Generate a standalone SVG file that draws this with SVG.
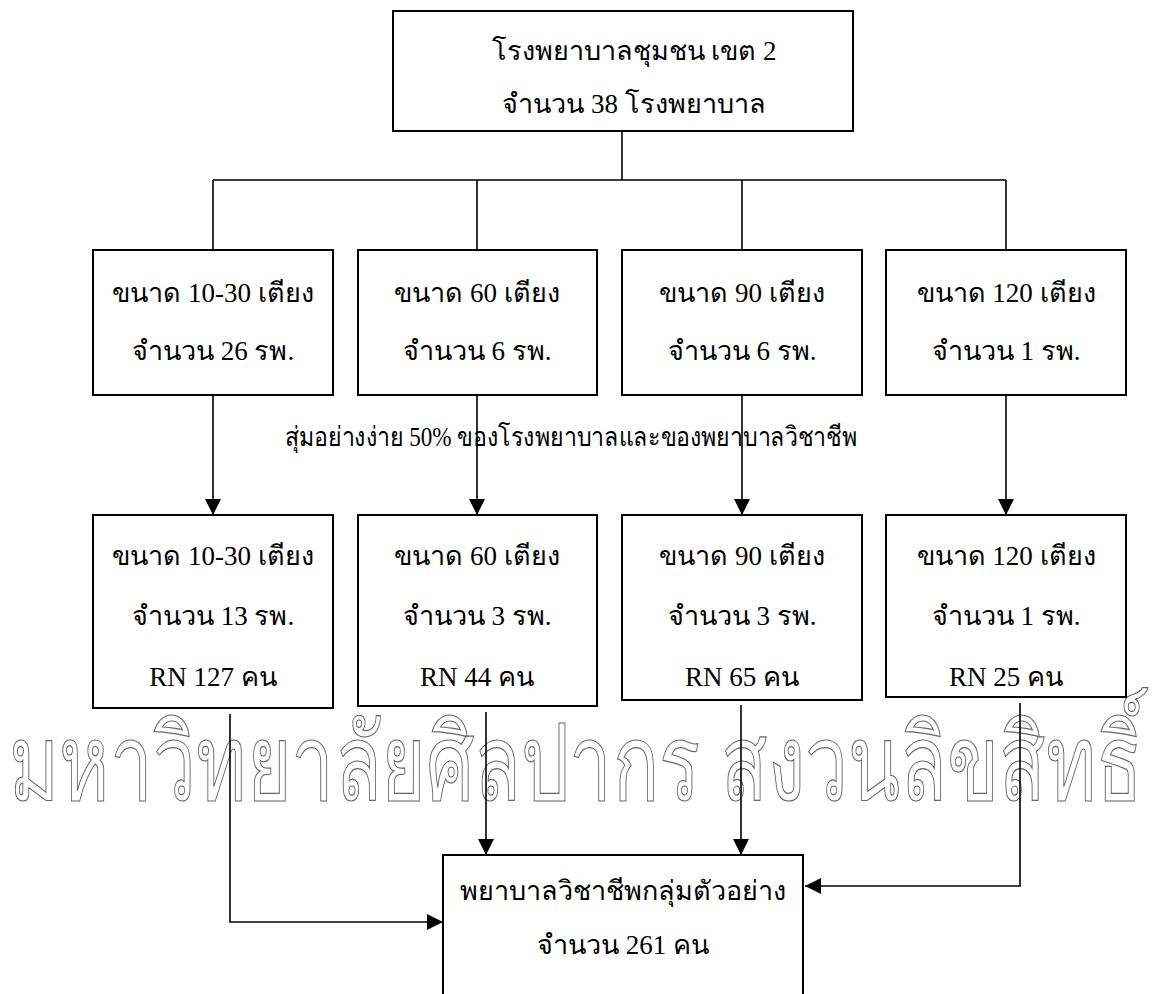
<svg xmlns="http://www.w3.org/2000/svg" width="1153" height="994" viewBox="0 0 1153 994">
<defs>
<style>
.box{fill:#fff;stroke:#000;stroke-width:2}
.t{font-family:"Liberation Serif","DejaVu Serif",serif;font-size:27px;fill:#000;text-anchor:middle}
.c{fill:none;stroke:#000;stroke-width:1.6}
.wm{font-family:"Liberation Sans","DejaVu Sans",sans-serif;font-size:106px;fill:none;stroke:#666;stroke-width:1.2}
</style>
<marker id="ah2" viewBox="0 0 10 10" refX="10" refY="5" markerWidth="16" markerHeight="16" markerUnits="userSpaceOnUse" orient="auto">
<path d="M0,0 L10,5 L0,10 z" fill="#000"/>
</marker>
</defs>
<rect width="1153" height="994" fill="#fff"/>

<text class="wm" x="576" y="800" text-anchor="middle" textLength="1134" lengthAdjust="spacingAndGlyphs">มหาวิทยาลัยศิลปากร สงวนลิขสิทธิ์</text>

<g id="connectors">
<path class="c" d="M622,131 V180 M213,180 H1006 M213,180 V250 M477,180 V250 M742,180 V250 M1006,180 V250"/>
<line class="c" x1="213" y1="395" x2="213" y2="515" marker-end="url(#ah2)"/>
<line class="c" x1="477" y1="395" x2="477" y2="515" marker-end="url(#ah2)"/>
<line class="c" x1="742" y1="395" x2="742" y2="515" marker-end="url(#ah2)"/>
<line class="c" x1="1006" y1="395" x2="1006" y2="515" marker-end="url(#ah2)"/>
<polyline class="c" points="230,714 230,922 443,922" marker-end="url(#ah2)"/>
<line class="c" x1="486" y1="712" x2="486" y2="855" marker-end="url(#ah2)"/>
<line class="c" x1="741" y1="705" x2="741" y2="855" marker-end="url(#ah2)"/>
<polyline class="c" points="1020,703 1020,886 805,886" marker-end="url(#ah2)"/>
</g>

<g id="top">
<rect class="box" x="393" y="11" width="460" height="120"/>
<text class="t" x="634" y="60">โรงพยาบาลชุมชน เขต 2</text>
<text class="t" x="634" y="113">จำนวน 38 โรงพยาบาล</text>
</g>

<g id="a1"><rect class="box" x="93" y="250" width="240" height="145"/>
<text class="t" x="213" y="302">ขนาด 10-30 เตียง</text><text class="t" x="213" y="360">จำนวน 26 รพ.</text></g>
<g id="a2"><rect class="box" x="358" y="250" width="239" height="145"/>
<text class="t" x="477" y="302">ขนาด 60 เตียง</text><text class="t" x="477" y="360">จำนวน 6 รพ.</text></g>
<g id="a3"><rect class="box" x="622" y="250" width="240" height="145"/>
<text class="t" x="742" y="302">ขนาด 90 เตียง</text><text class="t" x="742" y="360">จำนวน 6 รพ.</text></g>
<g id="a4"><rect class="box" x="886" y="250" width="240" height="145"/>
<text class="t" x="1006" y="302">ขนาด 120 เตียง</text><text class="t" x="1006" y="360">จำนวน 1 รพ.</text></g>

<g id="label"><text class="t" x="571" y="446" textLength="572" lengthAdjust="spacingAndGlyphs">สุ่มอย่างง่าย 50% ของโรงพยาบาลและของพยาบาลวิชาชีพ</text></g>

<g id="b1"><rect class="box" x="93" y="515" width="240" height="193"/>
<text class="t" x="213" y="565">ขนาด 10-30 เตียง</text><text class="t" x="213" y="625">จำนวน 13 รพ.</text><text class="t" x="213" y="686">RN 127 คน</text></g>
<g id="b2"><rect class="box" x="358" y="515" width="239" height="191"/>
<text class="t" x="477" y="565">ขนาด 60 เตียง</text><text class="t" x="477" y="625">จำนวน 3 รพ.</text><text class="t" x="477" y="686">RN 44 คน</text></g>
<g id="b3"><rect class="box" x="622" y="515" width="240" height="185"/>
<text class="t" x="742" y="565">ขนาด 90 เตียง</text><text class="t" x="742" y="625">จำนวน 3 รพ.</text><text class="t" x="742" y="686">RN 65 คน</text></g>
<g id="b4"><rect class="box" x="886" y="515" width="240" height="182"/>
<text class="t" x="1006" y="565">ขนาด 120 เตียง</text><text class="t" x="1006" y="625">จำนวน 1 รพ.</text><text class="t" x="1006" y="686">RN 25 คน</text></g>

<g id="bottom"><rect class="box" x="443" y="855" width="360" height="150"/>
<text class="t" x="623" y="900">พยาบาลวิชาชีพกลุ่มตัวอย่าง</text>
<text class="t" x="623" y="954">จำนวน 261 คน</text></g>
</svg>
